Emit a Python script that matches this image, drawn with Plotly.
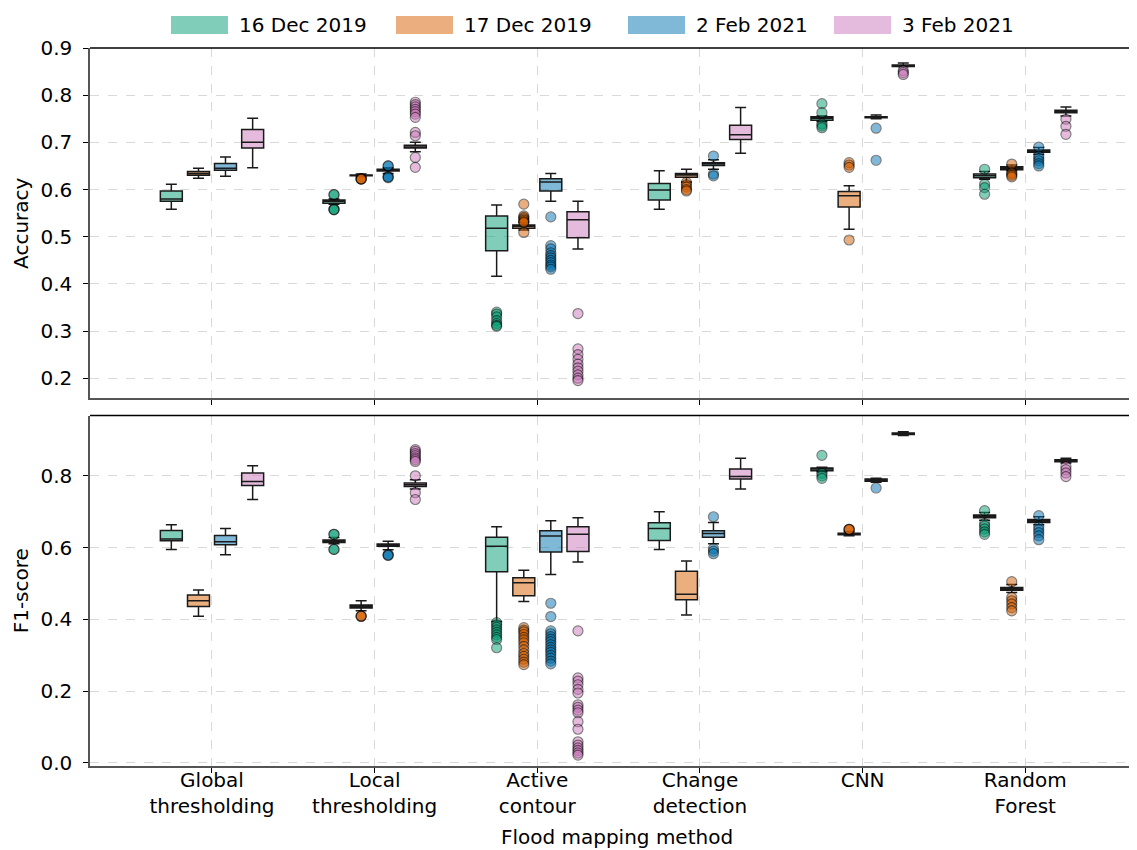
import plotly.graph_objects as go
from plotly.subplots import make_subplots

methods = ["Global<br>thresholding", "Local<br>thresholding", "Active<br>contour",
           "Change<br>detection", "CNN", "Random<br>Forest"]
dates = ["16 Dec 2019", "17 Dec 2019", "2 Feb 2021", "3 Feb 2021"]
colors = ["#029e73", "#d55e00", "#0173b2", "#cc78bc"]

# ---------------- Accuracy (rows: dates, cols: methods) ----------------
acc_lower = [[0.558, 0.569, 0.416, 0.558, 0.744, 0.622],
             [0.624, 0.627, 0.514, 0.616, 0.516, 0.640],
             [0.628, 0.634, 0.575, 0.643, 0.750, 0.675],
             [0.646, 0.680, 0.474, 0.677, 0.860, 0.756]]
acc_q1 = [[0.575, 0.571, 0.470, 0.578, 0.747, 0.625],
          [0.630, 0.629, 0.518, 0.626, 0.563, 0.642],
          [0.641, 0.639, 0.597, 0.651, 0.752, 0.679],
          [0.688, 0.688, 0.498, 0.706, 0.861, 0.763]]
acc_median = [[0.580, 0.575, 0.518, 0.599, 0.751, 0.629],
              [0.634, 0.630, 0.522, 0.631, 0.587, 0.645],
              [0.645, 0.641, 0.616, 0.655, 0.753, 0.681],
              [0.700, 0.690, 0.536, 0.716, 0.862, 0.766]]
acc_q3 = [[0.597, 0.578, 0.544, 0.613, 0.754, 0.633],
          [0.638, 0.631, 0.525, 0.634, 0.596, 0.648],
          [0.655, 0.643, 0.623, 0.657, 0.754, 0.684],
          [0.727, 0.694, 0.553, 0.736, 0.864, 0.768]]
acc_upper = [[0.611, 0.580, 0.567, 0.640, 0.756, 0.638],
             [0.645, 0.633, 0.530, 0.643, 0.608, 0.652],
             [0.669, 0.646, 0.634, 0.663, 0.758, 0.689],
             [0.751, 0.700, 0.575, 0.774, 0.868, 0.775]]
acc_outliers = [
    [[], [0.589, 0.589, 0.558, 0.558, 0.557],
     [0.340, 0.336, 0.330, 0.322, 0.316, 0.312, 0.310], [],
     [0.782, 0.763, 0.739, 0.735, 0.731], [0.643, 0.611, 0.604, 0.590]],
    [[], [0.623, 0.623, 0.622, 0.622],
     [0.569, 0.544, 0.541, 0.538, 0.535, 0.532, 0.530, 0.509],
     [0.615, 0.610, 0.605, 0.600, 0.597],
     [0.657, 0.652, 0.647, 0.493], [0.654, 0.636, 0.633, 0.630, 0.627]],
    [[], [0.650, 0.650, 0.627, 0.627, 0.625],
     [0.542, 0.481, 0.474, 0.466, 0.460, 0.455, 0.450, 0.445, 0.440, 0.436, 0.431],
     [0.671, 0.633, 0.629], [0.730, 0.662],
     [0.690, 0.671, 0.666, 0.661, 0.655, 0.650]],
    [[], [0.785, 0.780, 0.775, 0.770, 0.765, 0.760, 0.753, 0.721, 0.714, 0.668, 0.647],
     [0.337, 0.262, 0.250, 0.240, 0.230, 0.222, 0.215, 0.207, 0.200, 0.195], [],
     [0.852, 0.848, 0.844], [0.749, 0.734, 0.717]],
]

# ---------------- F1-score ----------------
f1_lower = [[0.595, 0.611, 0.394, 0.595, 0.811, 0.676],
            [0.409, 0.424, 0.450, 0.412, 0.633, 0.475],
            [0.580, 0.594, 0.525, 0.611, 0.782, 0.664],
            [0.734, 0.763, 0.560, 0.763, 0.912, 0.836]]
f1_q1 = [[0.619, 0.614, 0.533, 0.620, 0.814, 0.683],
         [0.436, 0.432, 0.466, 0.455, 0.636, 0.481],
         [0.608, 0.604, 0.588, 0.629, 0.785, 0.670],
         [0.773, 0.770, 0.589, 0.791, 0.915, 0.839]]
f1_median = [[0.624, 0.618, 0.604, 0.653, 0.819, 0.687],
             [0.452, 0.436, 0.502, 0.470, 0.638, 0.485],
             [0.616, 0.607, 0.632, 0.639, 0.788, 0.674],
             [0.784, 0.775, 0.637, 0.798, 0.917, 0.842]]
f1_q3 = [[0.648, 0.621, 0.629, 0.669, 0.822, 0.691],
         [0.468, 0.440, 0.516, 0.534, 0.640, 0.489],
         [0.634, 0.610, 0.647, 0.647, 0.791, 0.678],
         [0.808, 0.780, 0.658, 0.819, 0.919, 0.845]]
f1_upper = [[0.664, 0.628, 0.658, 0.700, 0.824, 0.698],
            [0.482, 0.452, 0.537, 0.563, 0.645, 0.497],
            [0.653, 0.618, 0.675, 0.670, 0.793, 0.686],
            [0.828, 0.789, 0.683, 0.849, 0.923, 0.849]]
f1_outliers = [
    [[], [0.637, 0.637, 0.595, 0.595],
     [0.391, 0.385, 0.378, 0.371, 0.364, 0.357, 0.350, 0.344, 0.321], [],
     [0.857, 0.807, 0.800, 0.793], [0.703, 0.667, 0.660, 0.652, 0.644, 0.637]],
    [[], [0.409, 0.409, 0.409],
     [0.377, 0.370, 0.365, 0.358, 0.350, 0.343, 0.335, 0.325, 0.315, 0.305,
      0.297, 0.289, 0.281, 0.274], [],
     [0.651, 0.651, 0.650], [0.505, 0.461, 0.452, 0.443, 0.433, 0.424]],
    [[], [0.580, 0.580, 0.578],
     [0.445, 0.408, 0.368, 0.360, 0.352, 0.345, 0.338, 0.330, 0.322, 0.315,
      0.308, 0.300, 0.292, 0.284, 0.276],
     [0.686, 0.597, 0.590, 0.583], [0.766],
     [0.689, 0.658, 0.650, 0.642, 0.633, 0.622]],
    [[], [0.873, 0.868, 0.862, 0.856, 0.850, 0.845, 0.840, 0.800, 0.753, 0.734],
     [0.368, 0.237, 0.228, 0.218, 0.205, 0.195, 0.162, 0.155, 0.147, 0.140,
      0.115, 0.094, 0.059, 0.050, 0.042, 0.035, 0.028, 0.022], [],
     [], [0.826, 0.817, 0.808, 0.798]],
]

offsets = [-0.25, -0.083, 0.083, 0.25]
box_width = 0.135

W, H = 1137, 850
ML, MR, MT, MB = 82, 1, 40, 92
PW, PH = W - ML - MR, H - MT - MB


def rgba(hex_color, a):
    h = hex_color.lstrip("#")
    r, g, b = int(h[0:2], 16), int(h[2:4], 16), int(h[4:6], 16)
    return f"rgba({r},{g},{b},{a})"


def px_x(px):
    return (px - ML) / PW


def px_y(py):
    return (H - MB - py) / PH


fig = make_subplots(rows=2, cols=1, shared_xaxes=True, vertical_spacing=0.0237)

panels = [
    (1, acc_lower, acc_q1, acc_median, acc_q3, acc_upper, acc_outliers),
    (2, f1_lower, f1_q1, f1_median, f1_q3, f1_upper, f1_outliers),
]

for row, lo, q1, med, q3, up, outl in panels:
    for d in range(len(dates)):
        xs = [i + offsets[d] for i in range(len(methods))]
        fig.add_trace(go.Box(
            x=xs, q1=q1[d], median=med[d], q3=q3[d],
            lowerfence=lo[d], upperfence=up[d],
            width=box_width, whiskerwidth=0.5,
            fillcolor=rgba(colors[d], 0.5),
            line=dict(color="#1a1a1a", width=1.5),
            boxpoints=False, showlegend=False, name=dates[d],
            hoverinfo="skip",
        ), row=row, col=1)
        ox, oy = [], []
        for i in range(len(methods)):
            for v in outl[d][i]:
                ox.append(i + offsets[d])
                oy.append(v)
        fig.add_trace(go.Scatter(
            x=ox, y=oy, mode="markers",
            marker=dict(size=10, color=colors[d], opacity=0.5,
                        line=dict(color="black", width=1.2)),
            showlegend=False, hoverinfo="skip", name=dates[d],
        ), row=row, col=1)

FS = 20
axis_font = dict(family="DejaVu Sans", size=FS, color="black")
common_x = dict(
    range=[-0.75, 5.73], tickmode="array",
    tickvals=list(range(len(methods))), ticktext=methods,
    ticks="outside", ticklen=5, tickwidth=1, tickcolor="black",
    showgrid=True, gridcolor="#d9d9d9", griddash="dash", gridwidth=1,
    showline=True, linecolor="#555555", linewidth=1.5,
    zeroline=False, tickfont=axis_font,
)
fig.update_xaxes(**common_x)
fig.update_xaxes(showticklabels=False, row=1, col=1)
fig.update_xaxes(ticklabelstandoff=-10,
                 title=dict(text="Flood mapping method", font=axis_font, standoff=13),
                 row=2, col=1)

common_y = dict(
    ticks="outside", ticklen=5, tickwidth=1, tickcolor="black",
    showgrid=True, gridcolor="#d9d9d9", griddash="dash", gridwidth=1,
    showline=True, linecolor="#555555", linewidth=1.5,
    zeroline=False, tickfont=axis_font, ticklabelstandoff=7,
)
fig.update_yaxes(**common_y)
fig.update_yaxes(range=[0.157, 0.9], tickvals=[0.2, 0.3, 0.4, 0.5, 0.6, 0.7, 0.8, 0.9],
                 tickformat=".1f",
                 title=dict(text="Accuracy", font=axis_font, standoff=6), row=1, col=1)
fig.update_yaxes(range=[-0.0084, 0.968], tickvals=[0.0, 0.2, 0.4, 0.6, 0.8],
                 tickformat=".1f",
                 title=dict(text="F1-score", font=axis_font, standoff=6), row=2, col=1)

# top/right spines
for xr, yr in [("x domain", "y domain"), ("x2 domain", "y2 domain")]:
    fig.add_shape(type="line", xref=xr, yref=yr, x0=0, x1=1, y0=1, y1=1,
                  line=dict(color="black", width=1.5))
    fig.add_shape(type="line", xref=xr, yref=yr, x0=1, x1=1, y0=0, y1=1,
                  line=dict(color="black", width=1.5))

# legend (patches + labels) above the top panel
legend_x = [163, 388, 620, 826]
sw_w, sw_top, sw_bot, txt_y = 57, 8, 26, 17
for d in range(len(dates)):
    fig.add_shape(type="rect", xref="paper", yref="paper",
                  x0=px_x(legend_x[d]), x1=px_x(legend_x[d] + sw_w),
                  y0=px_y(sw_bot), y1=px_y(sw_top),
                  fillcolor=rgba(colors[d], 0.5), line=dict(width=0))
    fig.add_annotation(xref="paper", yref="paper",
                       x=px_x(legend_x[d] + sw_w + 9), y=px_y(txt_y),
                       xanchor="left", yanchor="middle", showarrow=False,
                       text=dates[d], font=axis_font)

fig.update_layout(
    width=W, height=H,
    margin=dict(l=ML, r=MR, t=MT, b=MB, autoexpand=False),
    plot_bgcolor="white", paper_bgcolor="white",
    boxmode="overlay", showlegend=False,
    font=dict(family="DejaVu Sans", size=FS, color="black"),
)

fig.write_html("out.html")
